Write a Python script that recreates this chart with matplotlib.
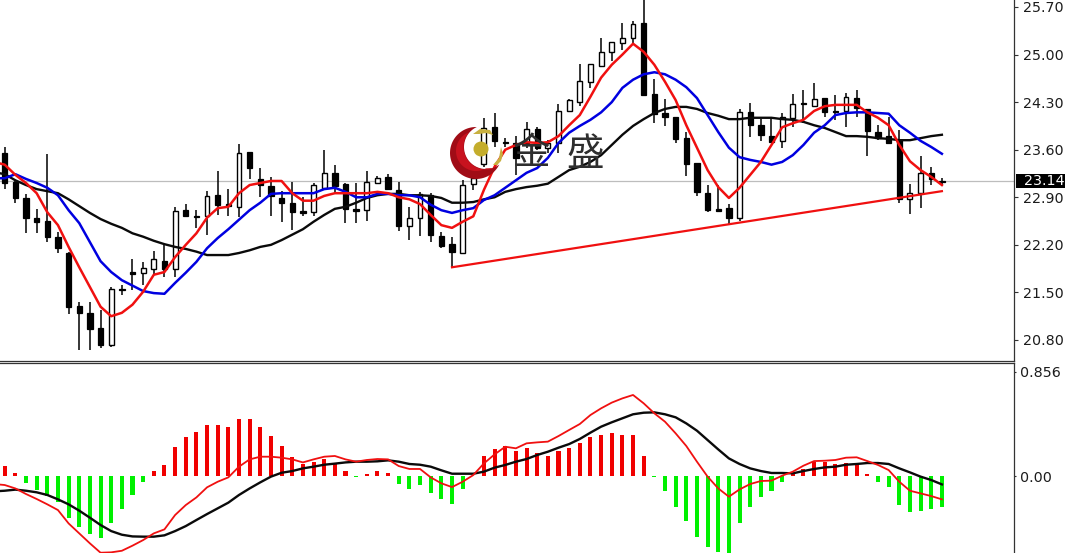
import numpy as np
import matplotlib
matplotlib.use("Agg")
import matplotlib.pyplot as plt
from matplotlib.patches import Polygon, Circle
from matplotlib.transforms import blended_transform_factory

opens = [23.55,23.12,22.89,22.60,22.55,22.32,22.08,21.30,21.20,20.98,20.73,21.55,21.80,21.79,21.84,21.96,21.84,22.71,22.62,22.62,
         22.93,22.80,22.76,23.57,23.17,23.07,22.89,22.82,22.70,22.68,23.04,23.26,23.10,22.73,22.71,23.11,23.20,23.01,22.48,22.60,
         22.93,22.33,22.21,22.08,23.10,23.39,23.93,23.71,23.70,23.70,23.90,23.62,23.70,24.17,24.30,24.60,24.83,25.04,25.17,25.24,
         25.47,24.42,24.14,24.08,23.77,23.40,22.96,22.73,22.74,22.60,24.15,23.96,23.80,23.73,24.07,24.29,24.24,24.36,24.17,24.17,
         24.36,24.20,23.86,23.80,23.74,22.87,22.96,23.26,23.14]
highs = [23.64,23.15,22.95,22.73,23.54,22.39,22.10,21.36,21.36,21.24,21.58,21.61,21.99,21.95,22.11,22.20,22.76,22.80,22.71,22.99,
         23.29,23.02,23.68,23.57,23.33,23.20,22.99,23.12,22.90,23.11,23.60,23.38,23.11,23.11,23.29,23.21,23.24,23.12,22.76,22.98,
         22.96,22.39,22.32,23.15,23.26,24.07,24.14,23.77,23.80,24.01,23.93,23.74,24.27,24.35,24.86,24.86,25.24,25.19,25.47,25.49,
         25.88,24.64,24.35,24.08,23.86,23.40,23.08,23.08,22.80,24.20,24.29,24.05,24.07,24.14,24.42,24.48,24.58,24.36,24.40,24.43,
         24.48,24.20,23.96,24.08,23.89,23.10,23.51,23.35,23.18]
lows = [23.02,22.82,22.37,22.37,22.24,22.08,21.18,20.65,20.65,20.68,20.70,21.46,21.54,21.61,21.76,21.73,21.73,22.61,22.45,22.35,
        22.64,22.62,22.61,23.17,22.90,22.62,22.54,22.42,22.62,22.62,23.01,22.96,22.52,22.52,22.55,23.10,23.01,22.40,22.27,22.33,
        22.24,22.15,21.88,22.08,23.01,23.35,23.64,23.64,23.23,23.62,23.60,23.55,23.55,24.16,24.24,24.51,24.82,24.91,25.07,25.16,
        24.40,23.99,23.95,23.70,23.21,22.92,22.68,22.68,22.49,22.55,23.79,23.73,23.70,23.63,23.93,23.99,24.24,24.08,24.04,23.93,
        24.08,23.51,23.74,23.70,22.82,22.65,22.74,23.08,23.08]
closes = [23.11,22.89,22.60,22.54,22.32,22.15,21.29,21.20,20.96,20.73,21.55,21.54,21.77,21.86,21.99,21.84,22.70,22.62,22.61,22.92,
          22.79,22.77,23.55,23.33,23.08,22.92,22.82,22.68,22.67,23.08,23.26,23.07,22.73,22.70,23.12,23.18,23.02,22.48,22.60,22.95,
          22.34,22.18,22.10,23.08,23.18,23.92,23.73,23.70,23.48,23.90,23.62,23.70,24.17,24.33,24.61,24.86,25.04,25.19,25.24,25.45,
          24.40,24.13,24.08,23.76,23.39,22.98,22.71,22.70,22.60,24.15,23.96,23.82,23.71,24.08,24.27,24.27,24.35,24.15,24.15,24.38,
          24.21,23.88,23.77,23.70,22.87,22.96,23.26,23.17,23.13]

# moving averages start one bar left of the first candle
ma_red = [23.42,23.38,23.23,23.11,22.96,22.68,22.49,22.17,21.87,21.58,21.29,21.15,21.20,21.32,21.51,21.76,21.80,22.02,22.20,22.37,
          22.60,22.74,22.76,22.96,23.08,23.11,23.14,23.14,22.96,22.85,22.85,22.92,22.96,22.96,22.96,22.96,22.98,22.96,22.90,22.87,
          22.80,22.64,22.49,22.45,22.54,22.62,23.01,23.35,23.60,23.67,23.71,23.70,23.71,23.80,23.96,24.11,24.38,24.66,24.85,25.00,
          25.16,25.04,24.85,24.60,24.33,23.96,23.63,23.30,23.05,22.89,23.04,23.23,23.42,23.67,23.93,23.99,24.04,24.17,24.24,24.26,
          24.26,24.26,24.15,24.07,23.96,23.67,23.43,23.30,23.20,23.08]
ma_blue = [23.18,23.18,23.24,23.17,23.11,23.04,22.93,22.71,22.52,22.24,21.96,21.80,21.68,21.60,21.52,21.49,21.48,21.64,21.79,21.95,
           22.15,22.30,22.43,22.57,22.71,22.82,22.95,22.96,22.96,22.96,22.96,23.02,23.04,22.98,22.90,22.90,22.95,22.95,22.93,22.93,
           22.90,22.79,22.71,22.67,22.71,22.74,22.86,22.93,23.04,23.15,23.26,23.33,23.48,23.70,23.85,23.95,24.04,24.15,24.30,24.51,
           24.63,24.71,24.74,24.71,24.63,24.52,24.36,24.11,23.86,23.63,23.49,23.45,23.42,23.38,23.42,23.52,23.67,23.85,23.96,24.11,
           24.14,24.15,24.15,24.14,24.13,23.96,23.85,23.73,23.64,23.54]
ma_black = [23.27,23.24,23.15,23.08,23.02,22.99,22.96,22.87,22.77,22.67,22.58,22.51,22.45,22.37,22.32,22.26,22.21,22.17,22.14,22.10,
            22.05,22.05,22.05,22.08,22.12,22.17,22.20,22.27,22.35,22.43,22.54,22.64,22.73,22.76,22.82,22.89,22.93,22.95,22.95,22.93,
            22.93,22.92,22.89,22.82,22.82,22.83,22.87,22.90,22.98,23.02,23.05,23.07,23.10,23.20,23.30,23.35,23.42,23.52,23.67,23.82,
            23.95,24.05,24.14,24.20,24.23,24.23,24.20,24.14,24.10,24.05,24.05,24.07,24.07,24.07,24.05,24.04,24.01,23.96,23.92,23.86,
            23.80,23.80,23.79,23.77,23.76,23.74,23.74,23.77,23.80,23.82]

trend_bars = [42, 88]
trend_prices = [21.87, 22.99]
last_price = 23.14

price_ticks = [25.70, 25.00, 24.30, 23.60, 22.90, 22.20, 21.50, 20.80]
macd_ticks = [0.856, 0.0, -0.667]
macd_tick_labels = ["0.856", "0.00", "-0.667"]

macd_hist = [0.082,0.022,-0.060,-0.115,-0.165,-0.211,-0.343,-0.417,-0.477,-0.508,-0.390,-0.274,-0.156,-0.052,0.041,0.091,0.241,0.318,0.362,0.417,
             0.417,0.401,0.469,0.469,0.406,0.329,0.247,0.159,0.099,0.112,0.137,0.099,0.044,-0.011,0.016,0.041,0.022,-0.069,-0.107,-0.074,
             -0.137,-0.192,-0.233,-0.107,0.003,0.167,0.222,0.247,0.209,0.233,0.187,0.167,0.209,0.233,0.274,0.318,0.337,0.351,0.337,0.337,
             0.165,-0.005,-0.121,-0.252,-0.368,-0.499,-0.582,-0.626,-0.670,-0.390,-0.252,-0.170,-0.121,-0.047,0.022,0.055,0.118,0.118,0.096,0.104,
             0.096,0.016,-0.047,-0.093,-0.239,-0.299,-0.285,-0.274,-0.252]
macd_red = [-0.066,-0.074,-0.102,-0.148,-0.189,-0.233,-0.280,-0.390,-0.472,-0.554,-0.631,-0.628,-0.615,-0.573,-0.527,-0.472,-0.439,-0.321,-0.239,-0.176,
            -0.093,-0.047,-0.011,0.077,0.137,0.159,0.159,0.151,0.137,0.112,0.137,0.159,0.165,0.137,0.118,0.132,0.140,0.137,0.082,0.058,
            0.058,-0.011,-0.060,-0.091,-0.047,0.008,0.104,0.178,0.241,0.228,0.269,0.277,0.283,0.329,0.379,0.428,0.502,0.557,0.604,0.639,
            0.667,0.598,0.516,0.447,0.351,0.247,0.118,-0.005,-0.102,-0.170,-0.110,-0.066,-0.041,-0.038,0.003,0.036,0.085,0.123,0.126,0.132,
            0.151,0.154,0.123,0.091,0.049,-0.047,-0.121,-0.143,-0.165,-0.192]
macd_black = [-0.126,-0.121,-0.112,-0.121,-0.134,-0.156,-0.192,-0.233,-0.285,-0.343,-0.403,-0.453,-0.483,-0.497,-0.499,-0.499,-0.488,-0.453,-0.412,-0.362,
              -0.313,-0.266,-0.219,-0.156,-0.102,-0.052,-0.005,0.027,0.041,0.063,0.077,0.093,0.102,0.112,0.118,0.118,0.121,0.129,0.118,0.099,
              0.093,0.077,0.047,0.019,0.019,0.019,0.036,0.069,0.091,0.118,0.140,0.173,0.200,0.233,0.263,0.305,0.357,0.406,0.442,0.475,
              0.508,0.521,0.524,0.508,0.483,0.433,0.373,0.296,0.219,0.145,0.099,0.063,0.041,0.025,0.025,0.022,0.041,0.058,0.071,0.077,
              0.093,0.099,0.107,0.107,0.099,0.063,0.030,-0.005,-0.033,-0.069]

W, H = 1067, 553
fig = plt.figure(figsize=(W / 100, H / 100), dpi=100, facecolor="white")
plt.rcParams["font.family"] = ["DejaVu Sans"]


def px_axes(left, top, right, bottom):
    return fig.add_axes([left / W, 1 - bottom / H, (right - left) / W, (bottom - top) / H])


ax = px_axes(0, 0, 1014, 360.5)
ax2 = px_axes(0, 362.5, 1014, 560)
bars = np.arange(len(opens))
ma_x = np.arange(-1, len(opens))
xlim = (-0.441, 94.77)
ink = "#1c1c1c"

for a in (ax, ax2):
    a.set_xlim(*xlim)
    a.set_xticks([])
    a.yaxis.tick_right()
    a.spines["left"].set_visible(False)
    for s in ("right", "top", "bottom"):
        a.spines[s].set_linewidth(0.9)
        a.spines[s].set_color("#333333")

ax.set_ylim(25.803 - 360.5 * 0.014715, 25.803)
ax.spines["top"].set_visible(False)
ax.set_yticks(price_ticks)
ax.set_yticklabels([f"{v:.2f}" for v in price_ticks], fontsize=10.3, color=ink)
ax.tick_params(axis="y", length=3, width=0.8, pad=3.2, color="#333333")

ax.axhline(last_price, color="#bdbdbd", lw=0.9, zorder=1)
ax.vlines(bars, lows, highs, color="black", lw=1.1, zorder=2)
o, c = np.array(opens), np.array(closes)
down = c <= o
ax.bar(bars[down], (o - c)[down], bottom=c[down], width=0.5, color="black", edgecolor="black", lw=0.9, zorder=3)
ax.bar(bars[~down], (c - o)[~down], bottom=o[~down], width=0.46, color="white", edgecolor="black", lw=1.0, zorder=3)

ax.plot(ma_x, ma_black, color="#0a0a0a", lw=1.7, zorder=4)
ax.plot(ma_x, ma_blue, color="#0000e0", lw=1.8, zorder=5)
ax.plot(ma_x, ma_red, color="#f01010", lw=1.8, zorder=6)
ax.plot(trend_bars, trend_prices, color="#f01010", lw=1.6, zorder=6)

lab_trans = blended_transform_factory(ax.transAxes, ax.transData)
ax.text(1.0095, last_price, f"{last_price:.2f}", transform=lab_trans, color="white", fontsize=10.3,
        ha="left", va="center", clip_on=False, zorder=10)
ax.add_patch(plt.Rectangle((1.002, last_price - 0.105), 0.0485, 0.21, transform=lab_trans,
                           facecolor="black", edgecolor="none", clip_on=False, zorder=9))

ax2.set_ylim(-0.691, (476 - 362.5) / 121.5)
ax2.set_yticks(macd_ticks)
ax2.set_yticklabels(macd_tick_labels, fontsize=10.3, color=ink)
ax2.tick_params(axis="y", length=1.5, width=0.8, pad=2.5, color="#333333")
hist = np.array(macd_hist)
ax2.bar(bars, hist, width=0.38, color=np.where(hist >= 0, "#f00000", "#00f000"), lw=0, zorder=2)
ax2.plot(ma_x, macd_black, color="#0a0a0a", lw=1.7, zorder=3)
ax2.plot(ma_x, macd_red, color="#f01010", lw=1.3, zorder=4)

# watermark logo, placed in pixel space
ov = fig.add_axes([0, 0, 1, 1], zorder=20)
ov.set_xlim(0, W)
ov.set_ylim(H, 0)
ov.axis("off")
ov.patch.set_alpha(0)


def crescent(cx, cy, r, ix, iy, ir, start, end, istart, iend):
    a = np.radians(np.linspace(start, end, 80))
    b = np.radians(np.linspace(istart, iend, 80))
    return np.r_[np.c_[cx + r * np.cos(a), cy + r * np.sin(a)],
                 np.c_[ix + ir * np.cos(b), iy + ir * np.sin(b)]]


ov.add_patch(Polygon(crescent(476, 153, 26, 486, 147, 22, -88, -333.5, -307, -114.7), closed=True,
                     facecolor="#a00c16", edgecolor="none"))
ov.add_patch(Polygon(crescent(476, 151, 20, 486, 147, 22.5, -120, -300, -290, -140), closed=True,
                     facecolor="#c8121e", edgecolor="none"))
ov.add_patch(Circle((481, 149), 7.5, facecolor="#c4ad2c", edgecolor="none"))
ov.add_patch(Polygon([(473, 134), (480, 129), (490, 130), (493, 135), (486, 133), (479, 134)], closed=True,
                     facecolor="#c8b040", edgecolor="none"))
ov.add_patch(Polygon([(493, 165), (499, 158), (501, 147), (503, 154), (501, 161), (497, 165)], closed=True,
                     facecolor="#c8b040", edgecolor="none"))
for s, x in (("金", 532), ("盛", 585)):
    ov.text(x, 154, s, family=["Noto Sans CJK SC", "DejaVu Sans"], fontsize=27, color="#2e2e2e",
            ha="center", va="center")

fig.savefig("out.png", dpi=100)
